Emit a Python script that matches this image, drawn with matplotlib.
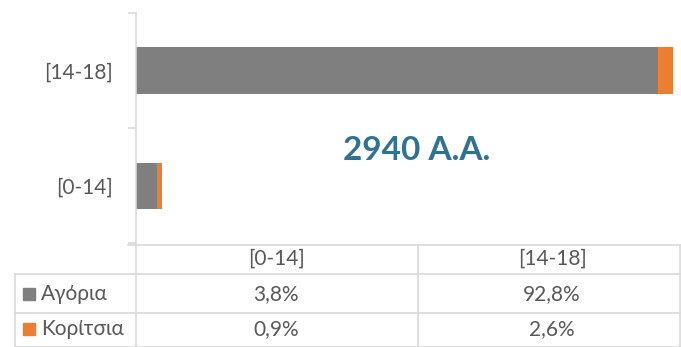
import matplotlib.pyplot as plt
from matplotlib.patches import Rectangle

plt.rcParams['font.family'] = ['Lato', 'DejaVu Sans']

categories = ["[0-14]", "[14-18]"]
series_names = ["Αγόρια", "Κορίτσια"]
boys = [3.8, 92.8]
girls = [0.9, 2.6]
labels_boys = ["3,8%", "92,8%"]
labels_girls = ["0,9%", "2,6%"]
colors = ["#7f7f7f", "#ed7d31"]
txt = "#595959"
grid = "#d9d9d9"
fs = 15

W, H = 681, 347
fig = plt.figure(figsize=(W / 100, H / 100), dpi=100)

# bar plot area (pixel layout)
x0, x1, ytop, ybot = 136, 681, 13, 243
ax = fig.add_axes([x0 / W, 1 - ybot / H, (x1 - x0) / W, (ybot - ytop) / H])
ypos = list(range(len(categories)))
ax.barh(ypos, boys, height=0.4, color=colors[0])
ax.barh(ypos, girls, left=boys, height=0.4, color=colors[1])
ax.set_xlim(0, 96.8)
ax.set_ylim(-0.5, 1.5)
for s in ["top", "right", "bottom"]:
    ax.spines[s].set_visible(False)
ax.spines["left"].set_color(grid)
ax.spines["left"].set_linewidth(1.2)
ax.set_xticks([])
ax.set_yticks(ypos)
ax.set_yticklabels(categories, fontsize=fs, color=txt)
ax.tick_params(axis="y", which="major", length=0, pad=17)
ax.set_yticks([-0.5, 0.5, 1.5], minor=True)
ax.tick_params(axis="y", which="minor", length=6, color=grid, width=1.2)
ax.text(0.515, 0.404, "2940 Α.Α.", transform=ax.transAxes, ha="center", va="center",
        fontsize=24, fontweight="bold", color="#2e7396")

# data table below in pixel coordinates
tb = fig.add_axes([0, 0, 1, 1], zorder=-1)
tb.set_xlim(0, W)
tb.set_ylim(H, 0)
tb.axis("off")
lc = dict(color=grid, lw=1.2)
tb.plot([128, W], [245, 245], **lc)
tb.plot([15, W], [274, 274], **lc)
tb.plot([15, W], [313, 313], **lc)
tb.plot([15, W], [347, 347], **lc)
tb.plot([15, 15], [274, H], **lc)
tb.plot([136, 136], [243, H], **lc)
tb.plot([418, 418], [245, H], **lc)
tb.plot([680, 680], [245, H], **lc)

col_c = [276, 552]
for c, lab in zip(col_c, categories):
    tb.text(c, 259, lab, ha="center", va="center", fontsize=fs, color=txt)
rows_y = [294, 329]
for y, name, col, vals in zip(rows_y, series_names, colors, [labels_boys, labels_girls]):
    tb.add_patch(Rectangle((23, y - 6), 12, 12, color=col))
    tb.text(41, y, name, ha="left", va="center", fontsize=fs, color=txt)
    for c, v in zip(col_c, vals):
        tb.text(c, y, v, ha="center", va="center", fontsize=fs, color=txt)

fig.savefig("out.png", dpi=100)
